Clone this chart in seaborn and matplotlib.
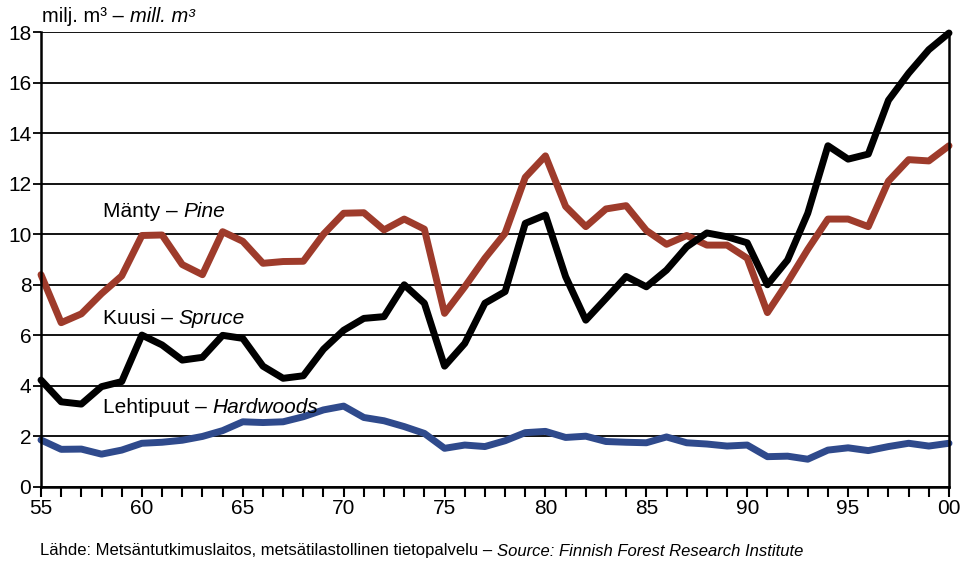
import matplotlib.pyplot as plt
import matplotlib.ticker as mticker
import pandas as pd
import seaborn as sns

years = list(range(1955, 2001))

pine = [8.4, 6.5, 6.85, 7.65, 8.35, 9.95, 9.97, 8.8, 8.4, 10.1,
        9.72, 8.85, 8.92, 8.93, 10.0, 10.83, 10.85, 10.17, 10.6, 10.2,
        6.87, 7.92, 9.05, 10.04, 12.25, 13.1, 11.1, 10.3, 11.0, 11.13,
        10.15, 9.6, 9.95, 9.57, 9.57, 9.05, 6.9, 8.1, 9.4, 10.6,
        10.6, 10.3, 12.1, 12.95, 12.9, 13.5]

spruce = [4.23, 3.37, 3.28, 3.97, 4.17, 6.01, 5.62, 5.02, 5.13, 6.0,
          5.88, 4.78, 4.3, 4.4, 5.45, 6.2, 6.67, 6.74, 8.0, 7.27,
          4.78, 5.68, 7.27, 7.73, 10.43, 10.76, 8.32, 6.6, 7.46, 8.33,
          7.92, 8.58, 9.5, 10.05, 9.9, 9.66, 8.0, 8.98, 10.83, 13.5,
          12.97, 13.17, 15.3, 16.37, 17.3, 17.96]

hardwoods = [1.86, 1.49, 1.5, 1.3, 1.46, 1.73, 1.77, 1.85, 2.0, 2.23,
             2.58, 2.55, 2.58, 2.78, 3.05, 3.2, 2.75, 2.62, 2.39, 2.12,
             1.53, 1.66, 1.6, 1.83, 2.15, 2.2, 1.96, 2.01, 1.8, 1.77,
             1.75, 1.98, 1.75, 1.7, 1.62, 1.66, 1.2, 1.22, 1.1, 1.46,
             1.55, 1.44, 1.6, 1.73, 1.62, 1.73]

tick_years = list(range(1955, 2001, 5))
tick_labels = ['55', '60', '65', '70', '75', '80', '85', '90', '95', '00']

df = pd.DataFrame({'year': years, 'pine': pine, 'spruce': spruce, 'hardwoods': hardwoods})

sns.set_style('white')
plt.rcParams['font.family'] = ['Liberation Sans', 'DejaVu Sans']
plt.rcParams['text.color'] = 'black'
plt.rcParams['xtick.color'] = 'black'
plt.rcParams['ytick.color'] = 'black'

fig = plt.figure(figsize=(9.6, 5.65), dpi=100)
ax = fig.add_axes([41 / 960, 78 / 565, 908 / 960, 455 / 565])

for col, color in [('hardwoods', '#2f4a8c'), ('pine', '#9e3b2b'), ('spruce', '#000000')]:
    sns.lineplot(data=df, x='year', y=col, color=color, linewidth=5, ax=ax,
                 solid_capstyle='round', clip_on=False)

ax.set_xlim(1955, 2000)
ax.set_ylim(0, 18)
ax.set_yticks(range(0, 19, 2))
ax.set_xticks(tick_years)
ax.set_xticklabels(tick_labels)
ax.xaxis.set_minor_locator(mticker.MultipleLocator(1))
ax.grid(axis='y', color='black', linewidth=1.3)
ax.set_axisbelow(True)
ax.set_xlabel('')
ax.set_ylabel('')

for side in ['left', 'right', 'bottom']:
    ax.spines[side].set_color('black')
    ax.spines[side].set_linewidth(1.8)
ax.spines['top'].set_visible(False)

ax.tick_params(axis='x', which='both', direction='out', length=7, width=1.5,
               bottom=True, labelsize=15, pad=2)
ax.tick_params(axis='y', which='major', direction='out', length=6, width=1.3,
               left=True, labelsize=15, pad=1)


def two_part(x, y, plain, italic, size, transform):
    # plain text followed by an italic part, placed right after it
    t = ax.text(x, y, plain, fontsize=size, va='center', ha='left', transform=transform)
    fig.canvas.draw()
    bb = t.get_window_extent()
    x2 = transform.inverted().transform((bb.x1, bb.y0))[0]
    ax.text(x2, y, italic, fontsize=size, va='center', ha='left', style='italic',
            transform=transform)


two_part(1958.05, 10.88, 'Mänty – ', 'Pine', 15, ax.transData)
two_part(1958.05, 6.68, 'Kuusi – ', 'Spruce', 15, ax.transData)
two_part(1958.05, 3.16, 'Lehtipuut – ', 'Hardwoods', 15, ax.transData)
two_part(42 / 960, 1 - 17 / 565, 'milj. m³ – ', 'mill. m³', 14.5, fig.transFigure)
two_part(40 / 960, 1 - 551 / 565,
         'Lähde: Metsäntutkimuslaitos, metsätilastollinen tietopalvelu – ',
         'Source: Finnish Forest Research Institute', 12, fig.transFigure)

fig.savefig('out.png', dpi=100)
